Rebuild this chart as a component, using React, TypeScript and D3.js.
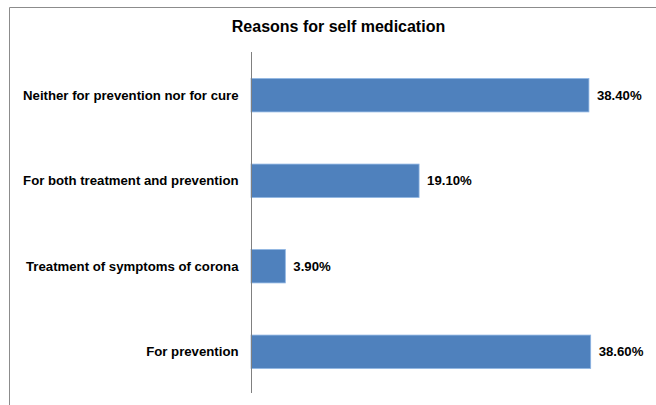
import React from "react";
import * as d3 from "d3";

const categories = [
  "Neither for prevention nor for cure",
  "For both treatment and prevention",
  "Treatment of symptoms of corona",
  "For prevention",
];
const values = [38.4, 19.1, 3.9, 38.6];
const valueLabels = ["38.40%", "19.10%", "3.90%", "38.60%"];
const title = "Reasons for self medication";

export default function App() {
  const W = 656, H = 405;
  const x = d3.scaleLinear().domain([0, 40]).range([251, 251 + 8.8 * 40]);
  const y = d3.scaleBand().domain(categories).range([52.5, 394.5]).paddingInner(0.61).paddingOuter(0.305);
  const font = "Arial, 'Liberation Sans', sans-serif";
  return (
    <svg width={W} height={H} style={{ position: "fixed", left: 0, top: 0, background: "#fff" }}>
      <rect x={0} y={0} width={W} height={H} fill="#fff" />
      <path d="M9.5,405 L9.5,7.5 L656,7.5" fill="none" stroke="#8c8c8c" strokeWidth={1} />
      <text x={338.5} y={32} textAnchor="middle" fontFamily={font} fontWeight="bold" fontSize={16} fill="#000">{title}</text>
      {categories.map((c, i) => (
        <g key={c}>
          <rect x={x(0)} y={y(c)!} width={x(values[i]) - x(0)} height={y.bandwidth()} fill="#4f81bd" stroke="#8db3e2" strokeWidth={0.8} />
          <text x={238.5} y={y(c)! + y.bandwidth() / 2} dy="0.35em" textAnchor="end" fontFamily={font} fontWeight="bold" fontSize={13.2} fill="#000">{c}</text>
          <text x={x(values[i]) + 8} y={y(c)! + y.bandwidth() / 2} dy="0.35em" textAnchor="start" fontFamily={font} fontWeight="bold" fontSize={13.2} fill="#000">{valueLabels[i]}</text>
        </g>
      ))}
      <line x1={251.5} x2={251.5} y1={52} y2={393} stroke="#808080" strokeWidth={1} />
    </svg>
  );
}
